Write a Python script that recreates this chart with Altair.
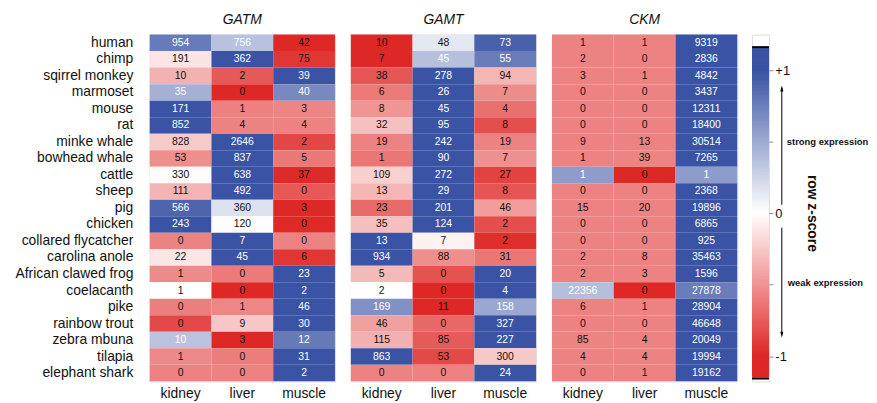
import altair as alt
import pandas as pd

species = ["human", "chimp", "sqirrel monkey", "marmoset", "mouse", "rat",
           "minke whale", "bowhead whale", "cattle", "sheep", "pig", "chicken",
           "collared flycatcher", "carolina anole", "African clawed frog",
           "coelacanth", "pike", "rainbow trout", "zebra mbuna", "tilapia",
           "elephant shark"]
tissues = ["kidney", "liver", "muscle"]
genes = ["GATM", "GAMT", "CKM"]

gatm_kidney = [954, 191, 10, 35, 171, 852, 828, 53, 330, 111, 566, 243, 0, 22, 1, 1, 0, 0, 10, 1, 0]
gatm_liver = [756, 362, 2, 0, 1, 4, 2646, 837, 638, 492, 360, 120, 7, 45, 0, 0, 1, 9, 3, 0, 0]
gatm_muscle = [42, 75, 39, 40, 3, 4, 2, 5, 37, 0, 3, 0, 0, 6, 23, 2, 46, 30, 12, 31, 2]

gamt_kidney = [10, 7, 38, 6, 8, 32, 19, 1, 109, 13, 23, 35, 13, 934, 5, 2, 169, 46, 115, 863, 0]
gamt_liver = [48, 45, 278, 26, 45, 95, 242, 90, 272, 29, 201, 124, 7, 88, 0, 0, 11, 0, 85, 53, 0]
gamt_muscle = [73, 55, 94, 7, 4, 8, 19, 7, 27, 8, 46, 2, 2, 31, 20, 4, 158, 327, 227, 300, 24]

ckm_kidney = [1, 2, 3, 0, 0, 0, 9, 1, 1, 0, 15, 0, 0, 2, 2, 22356, 6, 0, 85, 4, 0]
ckm_liver = [1, 0, 1, 0, 0, 0, 13, 39, 0, 0, 20, 0, 0, 8, 3, 0, 1, 0, 4, 4, 1]
ckm_muscle = [9319, 2836, 4842, 3437, 12311, 18400, 30514, 7265, 1, 2368, 19896, 6865, 925,
              35463, 1596, 27878, 28904, 46648, 20049, 19994, 19162]

gene_cols = {
    "GATM": [gatm_kidney, gatm_liver, gatm_muscle],
    "GAMT": [gamt_kidney, gamt_liver, gamt_muscle],
    "CKM": [ckm_kidney, ckm_liver, ckm_muscle],
}

rows = []
for g in genes:
    for t, vals in zip(tissues, gene_cols[g]):
        for s, v in zip(species, vals):
            rows.append({"gene": g, "species": s, "tissue": t, "value": v})
df = pd.DataFrame(rows)

FONT = "Liberation Sans"
RED = "#de2826"
BLUE = "#3a53a4"
color_scale = alt.Scale(domain=[-1, 0, 1], range=[RED, "#ffffff", BLUE],
                        clamp=True, interpolate="rgb")


def panel(gene, show_y):
    base = (alt.Chart(df)
            .transform_filter(alt.datum.gene == gene)
            .transform_joinaggregate(m="mean(value)", sd="stdev(value)", groupby=["species"])
            .transform_calculate(z="datum.sd > 0 ? (datum.value - datum.m) / datum.sd : 0"))
    x = alt.X("tissue:N", sort=tissues, title=None,
              scale=alt.Scale(paddingInner=0, paddingOuter=0),
              axis=alt.Axis(labelAngle=0, ticks=False, domain=False, labelFontSize=14,
                            labelFont=FONT, labelColor="#111", labelPadding=5))
    if show_y:
        y = alt.Y("species:N", sort=species, title=None,
                  scale=alt.Scale(paddingInner=0, paddingOuter=0),
                  axis=alt.Axis(ticks=False, domain=False, labelFontSize=14, labelFont=FONT,
                                labelColor="#111", labelPadding=17, labelLimit=300))
    else:
        y = alt.Y("species:N", sort=species, title=None,
                  scale=alt.Scale(paddingInner=0, paddingOuter=0), axis=None)
    rect = base.mark_rect(stroke=None).encode(
        x=x, y=y, color=alt.Color("z:Q", scale=color_scale, legend=None))
    text = base.mark_text(fontSize=10.5, font=FONT).encode(
        x=x, y=y, text=alt.Text("value:Q", format="d"),
        color=alt.condition("datum.z > 0.25", alt.value("#ffffff"), alt.value("#111111")))
    return alt.layer(rect, text).properties(
        width=187, height=350,
        title=alt.TitleParams(gene, fontSize=14, fontStyle="italic", fontWeight="normal",
                              font=FONT, color="#111", offset=8))


ydom = alt.Scale(domain=[-1.177, 1.253], nice=False, zero=False)
yaxis = alt.Axis(values=[-1, -0.5, 0, 0.5, 1], grid=False, domain=False, tickSize=4,
                 orient="right", labelFontSize=13, labelFont=FONT, labelColor="#111",
                 labelPadding=2,
                 labelExpr="datum.value == 1 ? '+1' : datum.value == -1 ? '-1' : datum.value == 0 ? '0' : ''")

bar = (alt.Chart(alt.sequence(start=-1.15, stop=1.16, step=0.01, as_="z"))
       .transform_calculate(z2="min(datum.z + 0.025, 1.165)")
       .mark_rect(stroke=None)
       .encode(y=alt.Y("z:Q", scale=ydom, axis=yaxis, title=None), y2="z2:Q",
               x=alt.value(0), x2=alt.value(17),
               color=alt.Color("z:Q", scale=color_scale, legend=None)))

edge_df = pd.DataFrame({"lo": [1.158, -1.164], "hi": [1.172, -1.150]})
edges = alt.Chart(edge_df).mark_rect(color="black", stroke=None).encode(
    y=alt.Y("lo:Q", scale=ydom), y2="hi:Q", x=alt.value(0), x2=alt.value(17))

one = pd.DataFrame({"k": [0]})
arrow_up = alt.Chart(one).mark_rule(color="black", strokeWidth=1).encode(
    y=alt.datum(0.06), y2=alt.datum(0.88), x=alt.value(30))
arrow_dn = alt.Chart(one).mark_rule(color="black", strokeWidth=1).encode(
    y=alt.datum(-0.10), y2=alt.datum(-0.85), x=alt.value(30))
head_up = alt.Chart(one).mark_point(shape="M0,-0.6L0.3,0.6L-0.3,0.6Z", filled=True,
                                    color="black", size=100, opacity=1).encode(
    y=alt.datum(0.875), x=alt.value(30))
head_dn = alt.Chart(one).mark_point(shape="M0,0.6L0.3,-0.6L-0.3,-0.6Z", filled=True,
                                    color="black", size=100, opacity=1).encode(
    y=alt.datum(-0.85), x=alt.value(30))
strong = alt.Chart(one).mark_text(text="strong expression", align="left", baseline="middle",
                                  fontSize=9.5, fontWeight="bold", font=FONT, color="#111").encode(
    y=alt.datum(0.5), x=alt.value(35))
weak = alt.Chart(one).mark_text(text="weak expression", align="left", baseline="middle",
                                fontSize=9.5, fontWeight="bold", font=FONT, color="#111").encode(
    y=alt.datum(-0.49), x=alt.value(36))
zlab = alt.Chart(one).mark_text(text="row z-score", align="center", baseline="middle", angle=90,
                                fontSize=14, fontWeight="bold", font=FONT, color="#111").encode(
    y=alt.datum(0.0), x=alt.value(60))

legend_panel = alt.layer(bar, edges, arrow_up, arrow_dn, head_up, head_dn, strong, weak, zlab
                         ).properties(width=17, height=350)

heat = alt.hconcat(panel("GATM", True), panel("GAMT", False), panel("CKM", False),
                   spacing=14).resolve_scale(color="independent", y="independent", x="independent")

chart = (alt.hconcat(heat, legend_panel, spacing=13)
         .resolve_scale(color="independent", y="independent", x="independent")
         .properties(padding={"left": 6, "top": 2, "right": 0, "bottom": 0})
         .configure_view(stroke=None)
         .configure(background="white"))

chart.save("out.html", embed_options={"renderer": "svg", "actions": False})
